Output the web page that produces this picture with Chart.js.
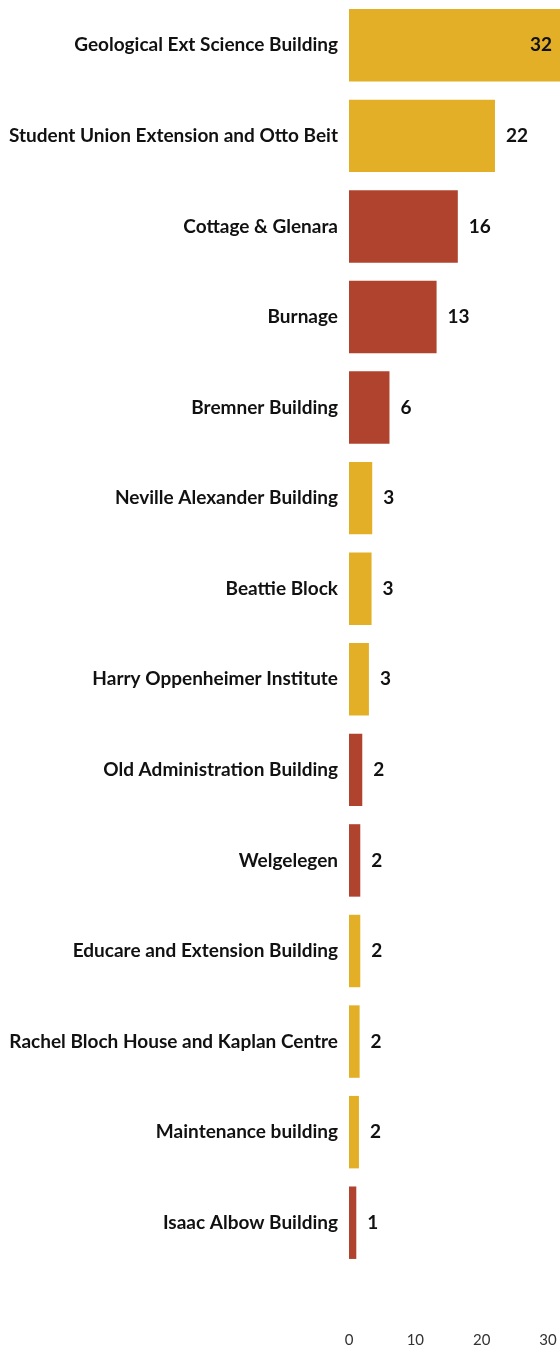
<!DOCTYPE html>
<html>
<head>
<meta charset="utf-8">
<script src="https://cdn.jsdelivr.net/npm/chart.js@4/dist/chart.umd.min.js"></script>
<style>
  html, body { margin: 0; padding: 0; background: #fff; }
  #wrap { position: relative; width: 560px; height: 1351px; }
</style>
</head>
<body>
<div id="wrap"><canvas id="buildingChart"></canvas></div>
<script>
const buildings = [
  "Geological Ext Science Building",
  "Student Union Extension and Otto Beit",
  "Cottage & Glenara",
  "Burnage",
  "Bremner Building",
  "Neville Alexander Building",
  "Beattie Block",
  "Harry Oppenheimer Institute",
  "Old Administration Building",
  "Welgelegen",
  "Educare and Extension Building",
  "Rachel Bloch House and Kaplan Centre",
  "Maintenance building",
  "Isaac Albow Building"
];
const counts = [32.4, 22.0, 16.4, 13.2, 6.1, 3.5, 3.4, 3.0, 2.0, 1.7, 1.7, 1.6, 1.5, 1.1];
const countLabels = ["32", "22", "16", "13", "6", "3", "3", "3", "2", "2", "2", "2", "2", "1"];
const groups = ["a", "a", "b", "b", "b", "a", "a", "a", "b", "b", "a", "a", "a", "b"];
const xTicks = [0, 10, 20, 30];

const GOLD = "#E3AF26";
const RED = "#B0432D";

// value labels next to bar ends, pulled inside when they'd run off the edge
const endLabels = {
  id: "endLabels",
  afterDatasetsDraw(chart) {
    const ctx = chart.ctx;
    const area = chart.chartArea;
    const meta = chart.getDatasetMeta(0);
    ctx.save();
    ctx.font = "bold 19px Lato";
    ctx.fillStyle = "#111";
    ctx.textBaseline = "middle";
    meta.data.forEach(function(bar, i) {
      let txt = countLabels[i];
      let w = ctx.measureText(txt).width;
      if (bar.x + 11 + w > area.right) {
        ctx.textAlign = "right";
        ctx.fillText(txt, Math.min(bar.x, area.right) - 8, bar.y);
      } else {
        ctx.textAlign = "left";
        ctx.fillText(txt, bar.x + 11, bar.y);
      }
    });
    ctx.restore();
  }
};

let data = {
  labels: buildings,
  datasets: [{
    data: counts,
    backgroundColor: groups.map(g => g == "a" ? GOLD : RED),
    borderWidth: 0,
    barPercentage: 0.8,
    categoryPercentage: 1.0
  }]
};

let config = {
  type: "bar",
  data: data,
  options: {
    indexAxis: "y",
    responsive: true,
    maintainAspectRatio: false,
    animation: false,
    layout: { padding: 0 },
    plugins: {
      legend: { display: false },
      tooltip: { enabled: false }
    },
    scales: {
      x: {
        min: 0,
        max: 31.8,
        grid: { display: false, drawTicks: false },
        border: { display: false },
        afterBuildTicks: function(scale) {
          scale.ticks = xTicks.map(v => ({ value: v }));
        },
        afterFit: function(scale) {
          // keep the plot running to the right edge, fixed axis height
          scale.paddingLeft = 0;
          scale.paddingRight = 0;
          scale.height = 83;
        },
        ticks: {
          padding: 63,
          color: "#333",
          font: { family: "Lato", size: 15 }
        }
      },
      y: {
        grid: { display: false, drawTicks: false },
        border: { display: false },
        afterFit: function(scale) {
          scale.width = 349;
          scale.paddingTop = 0;
          scale.paddingBottom = 0;
        },
        ticks: {
          padding: 11,
          color: "#111",
          font: { family: "Lato", size: 19, weight: "bold" }
        }
      }
    }
  },
  plugins: [endLabels]
};

let buildingChart = new Chart(document.getElementById("buildingChart"), config);
</script>
</body>
</html>
